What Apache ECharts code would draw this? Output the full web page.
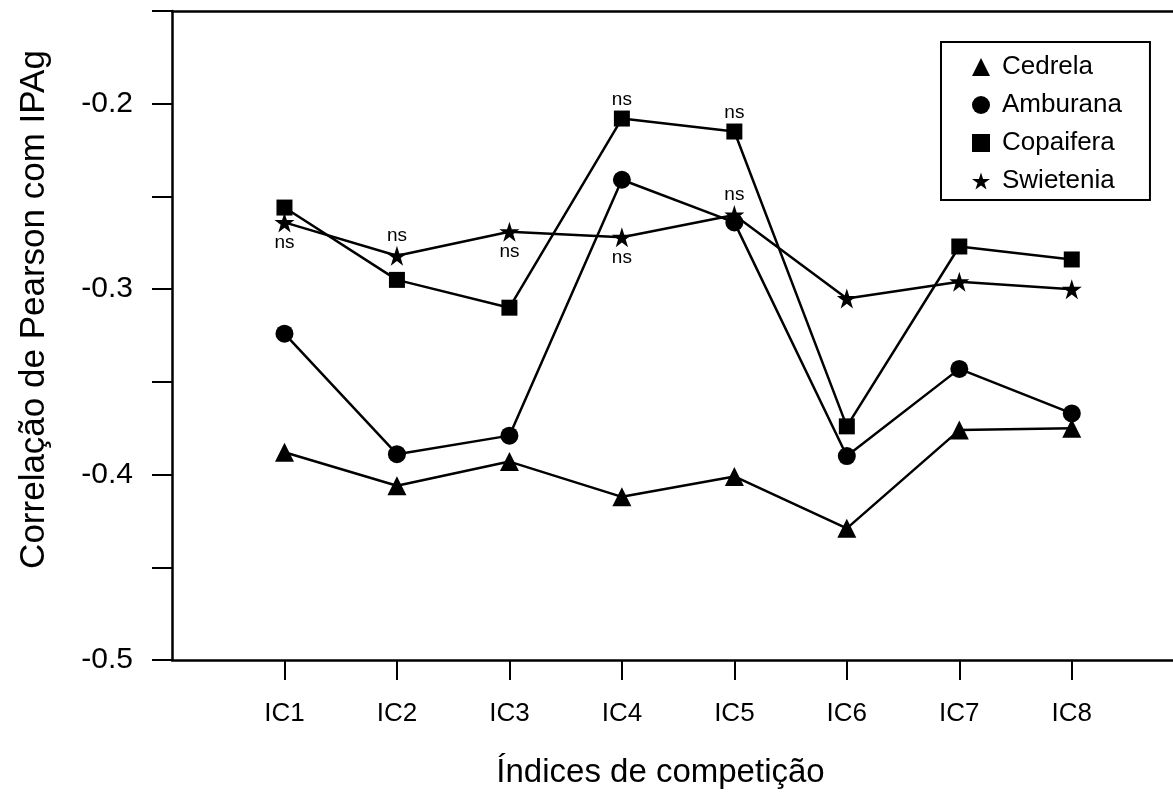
<!DOCTYPE html>
<html>
<head>
<meta charset="utf-8">
<script src="https://cdn.jsdelivr.net/npm/echarts@6/dist/echarts.min.js"></script>
<style>
  html, body { margin: 0; padding: 0; background: #fff; }
  #chart { width: 1173px; height: 794px; }
</style>
</head>
<body>
<div id="chart"></div>
<script>
// ---- data ----
const categories = ['IC1', 'IC2', 'IC3', 'IC4', 'IC5', 'IC6', 'IC7', 'IC8'];
const cedrela   = [-0.388, -0.406, -0.393, -0.412, -0.401, -0.429, -0.376, -0.375];
const amburana  = [-0.324, -0.389, -0.379, -0.241, -0.264, -0.390, -0.343, -0.367];
const copaifera = [-0.256, -0.295, -0.310, -0.208, -0.215, -0.374, -0.277, -0.284];
const swietenia = [-0.264, -0.282, -0.269, -0.272, -0.260, -0.305, -0.296, -0.300];
// "ns" annotations (position relative to the point), null = none
const copaiferaNs = [null, null, null, 'top', 'top', null, null, null];
const swieteniaNs = ['bottom', 'top', 'bottom', 'bottom', 'top', null, null, null];
const yTickLabels = [-0.5, -0.4, -0.3, -0.2];

const STAR = 'path://M50,0 L61.2,34.5 L97.6,34.5 L68.2,55.9 L79.4,90.5 L50,69.1 L20.6,90.5 L31.8,55.9 L2.4,34.5 L38.8,34.5 Z';
const FONT = 'Liberation Sans';

function buildData(values, ns) {
  return values.map(function (v, i) {
    const item = { value: [i + 1, v] };
    if (ns && ns[i]) {
      item.label = {
        show: true, position: ns[i], distance: 1,
        formatter: 'ns', color: '#000', fontSize: 19, fontFamily: FONT
      };
    }
    return item;
  });
}

function lineSeries(name, values, symbol, size, ns) {
  return {
    name: name, type: 'line', data: buildData(values, ns),
    symbol: symbol, symbolSize: size, showSymbol: true,
    lineStyle: { color: '#000', width: 2.5 },
    itemStyle: { color: '#000', borderWidth: 0 },
    emphasis: { disabled: true },
    animation: false
  };
}

const chart = echarts.init(document.getElementById('chart'), null, { renderer: 'canvas' });
chart.setOption({
  backgroundColor: '#fff',
  animation: false,
  grid: { left: 172, right: 0, top: 11, bottom: 133, containLabel: false },
  legend: {
    orient: 'vertical', left: 941, top: 42,
    backgroundColor: '#fff',
    borderColor: '#000', borderWidth: 2, borderRadius: 0,
    padding: [12, 28, 6, 31],
    itemGap: 12, itemWidth: 18, itemHeight: 18,
    textStyle: { fontSize: 26, fontFamily: FONT, color: '#000', padding: [0, 0, 0, 7] },
    selectedMode: false,
    data: [
      { name: 'Cedrela', icon: 'triangle' },
      { name: 'Amburana', icon: 'circle' },
      { name: 'Copaifera', icon: 'rect' },
      { name: 'Swietenia', icon: STAR }
    ]
  },
  xAxis: [{
    type: 'value', min: 0, max: 8.9, position: 'bottom',
    name: 'Índices de competição', nameLocation: 'middle', nameGap: 96,
    nameTextStyle: { fontSize: 33, fontFamily: FONT, color: '#000', padding: [0, 24, 0, 0] },
    axisLine: { show: true, onZero: false, lineStyle: { color: '#000', width: 2.5 } },
    axisTick: { show: true, inside: false, length: 20, customValues: [1, 2, 3, 4, 5, 6, 7, 8], lineStyle: { color: '#000', width: 2 } },
    axisLabel: {
      show: true, margin: 41, fontSize: 26, fontFamily: FONT, color: '#000',
      customValues: [1, 2, 3, 4, 5, 6, 7, 8],
      formatter: function (v) { return categories[Math.round(v) - 1] || ''; }
    },
    splitLine: { show: false }
  }, {
    type: 'value', min: 0, max: 8.9, position: 'top',
    axisLine: { show: true, onZero: false, lineStyle: { color: '#000', width: 2.5 } },
    axisTick: { show: false }, axisLabel: { show: false }, splitLine: { show: false }
  }],
  yAxis: {
    type: 'value', min: -0.5, max: -0.15, interval: 0.05,
    name: 'Correlação de Pearson com IPAg', nameLocation: 'middle', nameGap: 120, nameRotate: 90,
    nameTextStyle: { fontSize: 35, fontFamily: FONT, color: '#000', padding: [0, 0, 0, 52] },
    axisLine: { show: true, onZero: false, lineStyle: { color: '#000', width: 2.5 } },
    axisTick: { show: true, inside: false, length: 20, lineStyle: { color: '#000', width: 2 } },
    axisLabel: {
      show: true, margin: 39, fontSize: 30, fontFamily: FONT, color: '#000',
      customValues: yTickLabels,
      formatter: function (v) { return v.toFixed(1); }
    },
    splitLine: { show: false }
  },
  series: [
    lineSeries('Cedrela', cedrela, 'triangle', 19, null),
    lineSeries('Amburana', amburana, 'circle', 18, null),
    lineSeries('Copaifera', copaifera, 'rect', 16, copaiferaNs),
    lineSeries('Swietenia', swietenia, STAR, 20, swieteniaNs)
  ]
});
</script>
</body>
</html>
